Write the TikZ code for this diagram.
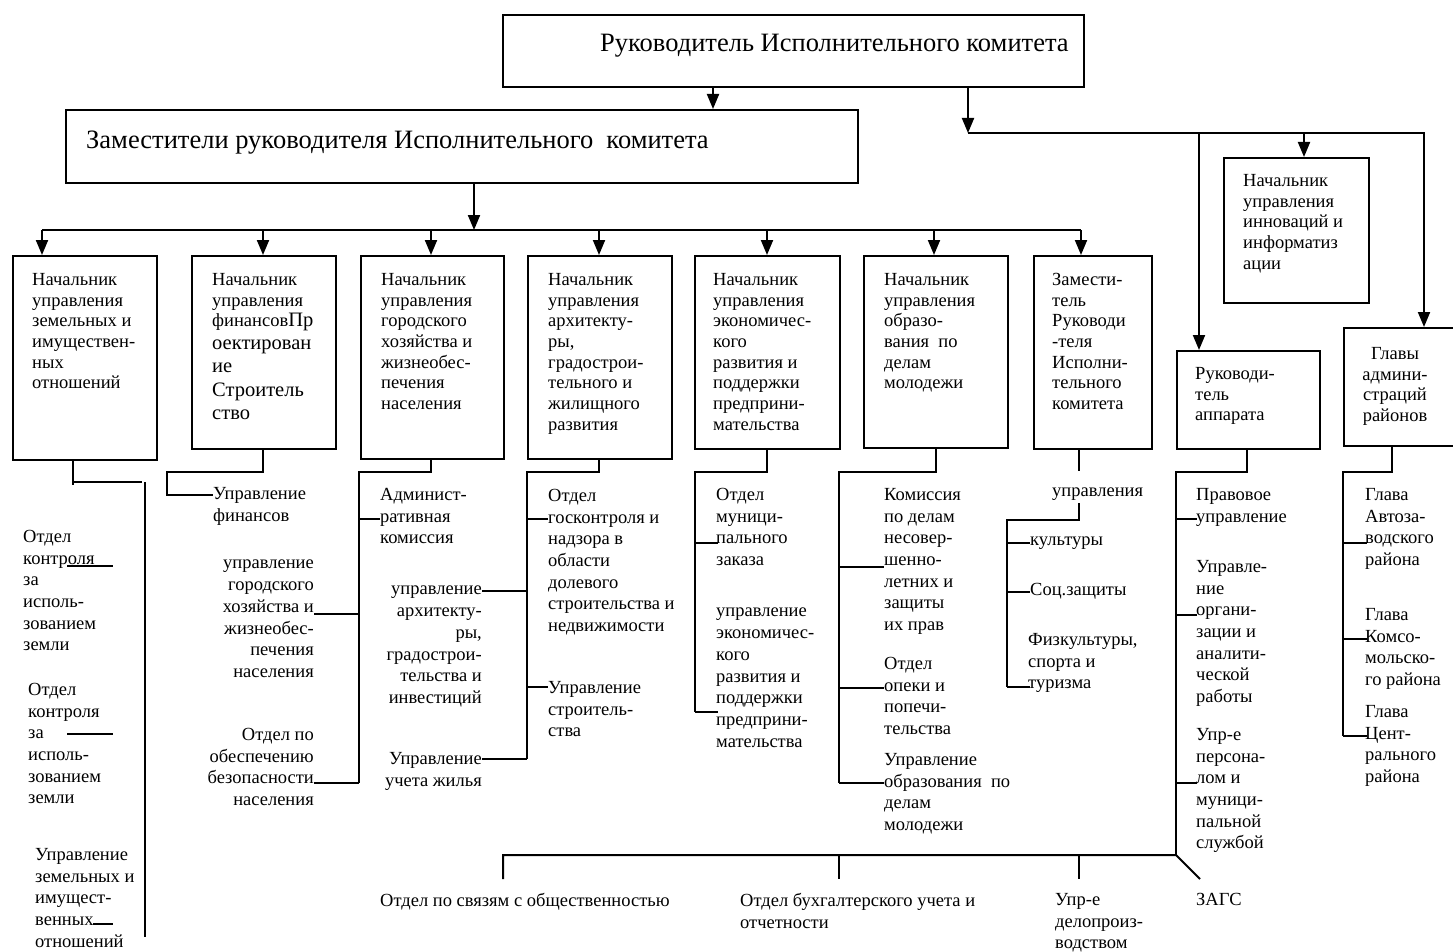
\documentclass[tikz,border=0pt]{standalone}
\usepackage{fontspec}
\setmainfont{Liberation Serif}
\usetikzlibrary{arrows.meta}
\tikzset{
	box/.style={draw,line width=2pt,inner sep=0pt,anchor=north west},
	txt/.style={inner sep=0pt,anchor=north west,align=left,font=\fontsize{18.5}{20.7}\selectfont},
	otxt/.style={txt,font=\fontsize{18.5}{21.7}\selectfont},
	rtxt/.style={otxt,align=right,anchor=north east},
	bigtxt/.style={txt,font=\fontsize{26.5}{30}\selectfont},
	ln/.style={line width=2pt},
	arr/.style={line width=2pt,-{Triangle[width=12pt,length=15pt]}}
}
\begin{document}
\begin{tikzpicture}[x=1pt,y=-1pt]
	\useasboundingbox (0,0) rectangle (1453,952);
	
	%TOP BOXES
	\node[box,minimum width=581pt,minimum height=72pt] (head) at (502,14) {};
	\node[bigtxt] (headt) at (600,34) {Руководитель Исполнительного комитета};
	\node[box,minimum width=792pt,minimum height=73pt] (dep) at (65,109) {};
	\node[bigtxt] (dept) at (86,131) {Заместители руководителя Исполнительного~ комитета};
	
	%CHIEF BOXES
	\node[box,minimum width=144pt,minimum height=204pt] (b1) at (12,255) {};
	\node[box,minimum width=144pt,minimum height=193pt] (b2) at (191,255) {};
	\node[box,minimum width=143pt,minimum height=203pt] (b3) at (360,255) {};
	\node[box,minimum width=144pt,minimum height=203pt] (b4) at (527,255) {};
	\node[box,minimum width=145pt,minimum height=193pt] (b5) at (694,255) {};
	\node[box,minimum width=144pt,minimum height=192pt] (b6) at (863,255) {};
	\node[box,minimum width=118pt,minimum height=193pt] (b7) at (1033,255) {};
	\node[box,minimum width=145pt,minimum height=145pt] (innov) at (1223,157) {};
	\node[box,minimum width=143pt,minimum height=98pt] (app) at (1176,350) {};
	\node[box,minimum width=114pt,minimum height=118pt] (glavy) at (1343,327) {};
	
	\node[txt] (b1t) at (32,273) {Начальник\\управления\\земельных и\\имуществен-\\ных\\отношений};
	\node[txt] (b2t) at (212,273) {Начальник\\управления\\финансов{\fontsize{20.5}{23}\selectfont Пр}\\[2.4pt]
		{\fontsize{20.5}{23}\selectfont оектирован}\\[2.4pt]{\fontsize{20.5}{23}\selectfont ие}\\[2.4pt]
		{\fontsize{20.5}{23}\selectfont Строитель}\\[2.4pt]{\fontsize{20.5}{23}\selectfont ство}};
	\node[txt] (b3t) at (381,273) {Начальник\\управления\\городского\\хозяйства и\\жизнеобес-\\печения\\населения};
	\node[txt] (b4t) at (548,273) {Начальник\\управления\\архитекту-\\ры,\\градострои-\\тельного и\\жилищного\\развития};
	\node[txt] (b5t) at (713,273) {Начальник\\управления\\экономичес-\\кого\\развития и\\поддержки\\предприни-\\мательства};
	\node[txt] (b6t) at (884,273) {Начальник\\управления\\образо-\\вания~ по\\делам\\молодежи};
	\node[txt] (b7t) at (1052,273) {Замести-\\тель\\Руководи\\-теля\\Исполни-\\тельного\\комитета};
	\node[txt] (innovt) at (1243,174) {Начальник\\управления\\инноваций и\\информатиз\\ации};
	\node[txt] (appt) at (1195,367) {Руководи-\\тель\\аппарата};
	\node[txt,align=center,anchor=north] (glavyt) at (1395,347) {Главы\\админи-\\страций\\районов};
	
	%ARROWS
	\coordinate (hd) at (713,0);
	\coordinate (r0) at (968,133);
	\coordinate (r1) at (1424,133);
	\draw[arr] (head.south -| hd) -- (dep.north -| hd);
	\draw[arr] (head.south -| r0) -- (r0);
	\draw[arr] (r0) -- (r1) -- (glavy.north -| r1);
	\draw[arr] (1199,133) -- (app.north -| 1199,0);
	\draw[arr] (1304,133) -- (innov.north -| 1304,0);
	\draw[arr] (dep.south -| 474,0) -- (474,230);
	\draw[ln] (42,230) -- (1081,230);
	\foreach \x/\b in {42/b1,263/b2,431/b3,599/b4,767/b5,934/b6,1081/b7}
		\draw[arr] (\x,230) -- (\x,0 |- \b.north);
	
	%LOWER TEXTS
	\node[otxt] (l1) at (23,530) {Отдел\\контроля\\за\\исполь-\\зованием\\земли};
	\node[otxt] (l2) at (28,683) {Отдел\\контроля\\за\\исполь-\\зованием\\земли};
	\node[otxt] (l3) at (35,848) {Управление\\земельных и\\имущест-\\венных\\отношений};
	\node[otxt] (f1) at (213,487) {Управление\\финансов};
	\node[rtxt] (f2) at (314,560) {управление\\городского\\хозяйства и\\жизнеобес-\\печения\\населения};
	\node[rtxt] (f3) at (314,728) {Отдел по\\обеспечению\\безопасности\\населения};
	\node[otxt] (g1) at (380,488) {Админист-\\ративная\\комиссия};
	\node[rtxt] (g2) at (482,586) {управление\\архитекту-\\ры,\\градострои-\\тельства и\\инвестиций};
	\node[rtxt] (g3) at (482,752) {Управление\\учета жилья};
	\node[otxt] (a1) at (548,489) {Отдел\\госконтроля и\\надзора в\\области\\долевого\\строительства и\\недвижимости};
	\node[otxt] (a2) at (548,681) {Управление\\строитель-\\ства};
	\node[otxt] (e1) at (716,488) {Отдел\\муници-\\пального\\заказа};
	\node[otxt] (e2) at (716,608) {управление\\экономичес-\\кого\\развития и\\поддержки\\предприни-\\мательства};
	\node[otxt] (m1) at (884,488) {Комиссия\\по делам\\несовер-\\шенно-\\летних и\\защиты\\их прав};
	\node[otxt] (m2) at (884,657) {Отдел\\опеки и\\попечи-\\тельства};
	\node[otxt] (m3) at (884,753) {Управление\\образования~ по\\делам\\молодежи};
	\node[otxt] (k0) at (1052,488) {управления};
	\node[otxt] (k1) at (1030,537) {культуры};
	\node[otxt] (k2) at (1030,583) {Соц.защиты};
	\node[otxt] (k3) at (1028,633) {Физкультуры,\\спорта и\\туризма};
	\node[otxt] (p1) at (1196,488) {Правовое\\управление};
	\node[otxt] (p2) at (1196,560) {Управле-\\ние\\органи-\\зации и\\аналити-\\ческой\\работы};
	\node[otxt] (p3) at (1196,728) {Упр-е\\персона-\\лом и\\муници-\\пальной\\службой};
	\node[otxt] (r1t) at (1365,488) {Глава\\Автоза-\\водского\\района};
	\node[otxt] (r2t) at (1365,608) {Глава\\Комсо-\\мольско-\\го района};
	\node[otxt] (r3t) at (1365,705) {Глава\\Цент-\\рального\\района};
	\node[otxt] (s1) at (380,893) {Отдел по связям с общественностью};
	\node[otxt] (s2) at (740,893) {Отдел бухгалтерского учета и\\отчетности};
	\node[otxt] (s3) at (1055,893) {Упр-е\\делопроиз-\\водством};
	\node[otxt] (s4) at (1196,893) {ЗАГС};
	
	%BRANCHES
	%land
	\draw[ln] (b1.south -| 73,0) -- (73,485);
	\draw[ln] (73,482) -- (120,482) -- (142,482);
	\draw[ln] (145,482) -- (145,937);
	\draw[ln] (67,566) -- (113,566);
	\draw[ln] (67,734) -- (113,734);
	\draw[ln] (93,924) -- (113,924);
	%finance
	\draw[ln] (b2.south -| 263,0) -- (263,472) -- (167,472) -- (167,495) -- (f1.west |- 0,495);
	%city
	\draw[ln] (b3.south -| 431,0) -- (431,472) -- (359,472) -- (359,783);
	\draw[ln] (359,519) -- (380,519);
	\draw[ln] (359,614) -- (f2.east |- 0,614);
	\draw[ln] (359,783) -- (f3.east |- 0,783);
	%architecture
	\draw[ln] (b4.south -| 599,0) -- (599,472) -- (527,472) -- (527,759);
	\draw[ln] (527,519) -- (548,519);
	\draw[ln] (527,591) -- (g2.east |- 0,591);
	\draw[ln] (527,687) -- (548,687);
	\draw[ln] (527,759) -- (g3.east |- 0,759);
	%economy
	\draw[ln] (b5.south -| 767,0) -- (767,472) -- (695,472) -- (695,712);
	\draw[ln] (695,543) -- (718,543);
	\draw[ln] (695,712) -- (718,712);
	%education
	\draw[ln] (b6.south -| 936,0) -- (936,472) -- (839,472) -- (839,783);
	\foreach \y in {567,688,783}
		\draw[ln] (839,\y) -- (884,\y);
	%deputy
	\draw[ln] (b7.south -| 1079,0) -- (1079,471);
	\draw[ln] (1079,503) -- (1079,520) -- (1007,520) -- (1007,687);
	\foreach \y in {543,592,687}
		\draw[ln] (1007,\y) -- (1030,\y);
	%apparatus
	\draw[ln] (app.south -| 1247,0) -- (1247,472) -- (1176,472) -- (1176,855);
	\foreach \y in {519,615,783}
		\draw[ln] (1176,\y) -- (1197,\y);
	\draw[ln] (503,879) -- (503,855) -- (1176,855) -- (1200,879);
	\draw[ln] (839,855) -- (839,879);
	\draw[ln] (1079,855) -- (1079,879);
	%districts
	\draw[ln] (glavy.south -| 1392,0) -- (1392,472) -- (1343,472) -- (1343,736);
	\foreach \y in {543,639,736}
		\draw[ln] (1343,\y) -- (1367,\y);
\end{tikzpicture}
\end{document}
